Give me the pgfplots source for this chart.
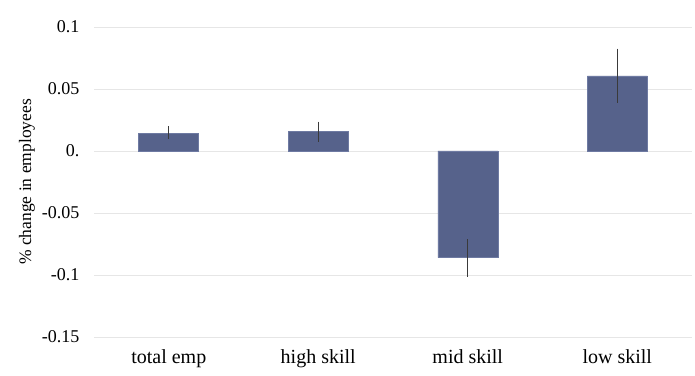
\documentclass[border=0pt]{standalone}
\usepackage{pgfplots}
\pgfplotsset{compat=1.18}
\usepackage{pgfplotstable}
\usepackage{fontspec}
\setmainfont{Liberation Serif}
\definecolor{barc}{HTML}{56628B}
\definecolor{bare}{HTML}{6E7AA2}
\definecolor{gridc}{HTML}{E6E6E6}
\definecolor{errc}{HTML}{3A3A3A}
\pgfplotstableread{
x y ep em
0 0.0145 0.0043 0.0038
1 0.0156 0.0072 0.0070
2 -0.0860 0.0140 0.0143
3 0.0605 0.0210 0.0207
}\datatab
\begin{document}
\begin{tikzpicture}
\useasboundingbox (-94bp,-39bp) rectangle (601bp,337bp);
\begin{axis}[
  at={(0,0)}, anchor=south west,
  scale only axis,
  width=598bp, height=310bp,
  xmin=-0.5, xmax=3.5,
  ymin=-0.15, ymax=0.1,
  xtick={0,1,2,3},
  xticklabels={total emp, high skill, mid skill, low skill},
  ytick={-0.15,-0.1,-0.05,0,0.05,0.1},
  yticklabels={-0.15,-0.1,-0.05,0.,0.05,0.1},
  ymajorgrids,
  grid style={gridc, line width=0.8bp},
  axis line style={draw=none},
  major tick length=0pt,
  tick style={draw=none},
  yticklabel style={font=\fontsize{18bp}{21bp}\selectfont, anchor=east, xshift=-11bp},
  xticklabel style={font=\fontsize{20bp}{23bp}\selectfont, anchor=north, yshift=-9bp},
  ylabel={\% change in employees},
  ylabel style={font=\fontsize{17.5bp}{20bp}\selectfont, at={(axis description cs:0,0.5)}, anchor=center, yshift=67bp},
  /pgf/number format/assume math mode=true,
]
\addplot[ybar, bar width=60bp, fill=barc, draw=bare, line width=0.5bp,
  error bars/.cd, y dir=both, y explicit,
  error bar style={errc, line width=0.9bp},
  error mark options={errc, mark size=1.2bp, line width=0.8bp}]
  table[x=x, y=y, y error plus=ep, y error minus=em] {\datatab};
\end{axis}
\end{tikzpicture}
\end{document}
